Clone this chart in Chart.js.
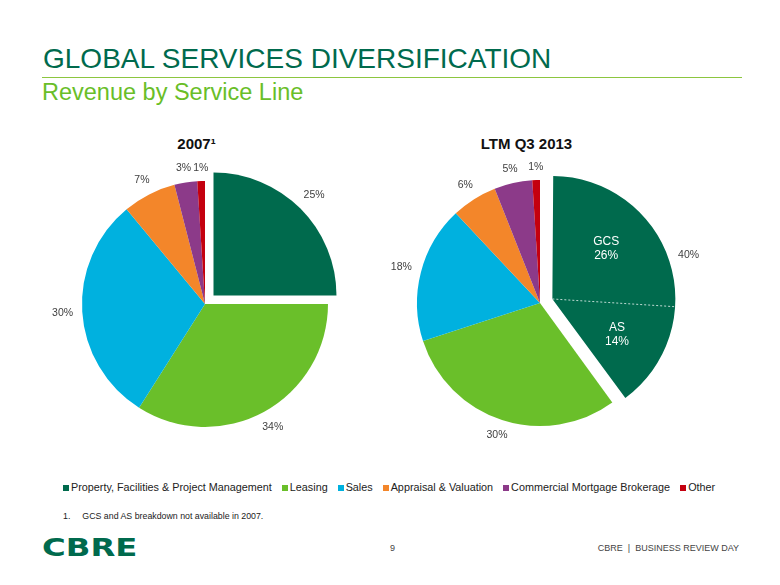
<!DOCTYPE html>
<html>
<head>
<meta charset="utf-8">
<script src="https://cdn.jsdelivr.net/npm/chart.js@4/dist/chart.umd.min.js"></script>
<style>
  body { margin: 0; background: #fff; }
  #page { position: relative; width: 780px; height: 585px; overflow: hidden; font-family: "Liberation Sans", Arial, sans-serif; }
  .abs { position: absolute; white-space: nowrap; }
  #title { left: 43px; top: 45px; font-size: 28px; line-height: 28px; color: #006a4d; }
  #rule { left: 42px; top: 77px; width: 700px; height: 1px; background: #8cc63f; }
  #subtitle { left: 42px; top: 80.5px; font-size: 23.5px; line-height: 23.5px; color: #69be28; }
  .pieTitle { width: 200px; text-align: center; font-weight: bold; font-size: 15px; line-height: 15px; color: #111; top: 136px; }
  canvas { position: absolute; }
  #legend { left: 63px; top: 482px; display: flex; font-size: 10.8px; line-height: 11px; color: #222; }
  #legend .item { display: flex; align-items: center; margin-right: 10px; }
  #legend .box { width: 6px; height: 6px; margin-right: 2px; }
  #note { left: 63px; top: 512px; font-size: 8.8px; line-height: 8.8px; color: #222; }
  #logo { left: 42px; top: 536px; font-family: "DejaVu Sans", sans-serif; font-weight: bold; font-size: 24.7px; line-height: 24.7px; color: #006a4d; transform: scaleX(1.31); transform-origin: left center; }
  #pageNo { left: 390px; top: 544px; font-size: 9px; line-height: 9px; color: #444; }
  #footer { right: 41px; top: 544px; font-size: 9px; line-height: 9px; color: #444; }
</style>
</head>
<body>
<div id="page">
  <div id="title" class="abs">GLOBAL SERVICES DIVERSIFICATION</div>
  <div id="rule" class="abs"></div>
  <div id="subtitle" class="abs">Revenue by Service Line</div>
  <div class="abs pieTitle" style="left:96.5px">2007¹</div>
  <div class="abs pieTitle" style="left:426.5px">LTM Q3 2013</div>
  <canvas id="pie2007" width="330" height="330" style="left:40px; top:139px"></canvas>
  <canvas id="pie2013" width="340" height="320" style="left:370px; top:143px"></canvas>
  <div id="legend" class="abs"></div>
  <div id="note" class="abs">1.<span style="display:inline-block; width:12px"></span>GCS and AS breakdown not available in 2007.</div>
  <div id="logo" class="abs">CBRE</div>
  <div id="pageNo" class="abs">9</div>
  <div id="footer" class="abs">CBRE&nbsp;&nbsp;|&nbsp;&nbsp;BUSINESS REVIEW DAY</div>
</div>
<script>
// revenue share by service line, in percent
const categories = ['Property, Facilities & Project Management', 'Leasing', 'Sales',
  'Appraisal & Valuation', 'Commercial Mortgage Brokerage', 'Other'];
const share2007 = [25, 34, 30, 7, 3, 1];
const shareLtm2013 = [40, 30, 18, 6, 5, 1];
// breakdown of the first slice in LTM Q3 2013
const splitLabels = ['GCS', 'AS'];
const splitValues = [26, 14];

const sliceColors = ['#006a4d', '#6abf2a', '#00b1df', '#f3862a', '#8c3a89', '#c4000f'];
const OFFSET_DIV = 4; // arc element moves a slice by offset / 4

// legend
const legend = document.getElementById('legend');
categories.forEach((name, i) => {
  const item = document.createElement('div');
  item.className = 'item';
  item.innerHTML = '<span class="box" style="background:' + sliceColors[i] + '"></span><span>' + name.replace('&', '&amp;') + '</span>';
  legend.appendChild(item);
});

function arcShift(arc) {
  const mid = (arc.startAngle + arc.endAngle) / 2;
  const t = (arc.options.offset || 0) / OFFSET_DIV;
  return { dx: Math.cos(mid) * t, dy: Math.sin(mid) * t, t, mid };
}

// exploded arcs get drawn with a larger radius; keep them the same size as the rest
const keepRadius = {
  id: 'keepRadius',
  beforeDatasetsDraw(chart) {
    chart.getDatasetMeta(0).data.forEach(arc => {
      if (arc.$baseR === undefined) arc.$baseR = arc.outerRadius;
      const t = (arc.options.offset || 0) / OFFSET_DIV;
      const fix = 1 - Math.sin(Math.min(Math.PI, arc.circumference || 0));
      arc.outerRadius = arc.$baseR - t * fix;
    });
  }
};

const pieLabels = {
  id: 'pieLabels',
  afterDatasetsDraw(chart) {
    const ctx = chart.ctx;
    const meta = chart.getDatasetMeta(0);
    const values = chart.data.datasets[0].data;
    ctx.save();
    ctx.font = '10.5px "Liberation Sans", Arial, sans-serif';
    ctx.fillStyle = '#404040';
    ctx.textAlign = 'center';
    ctx.textBaseline = 'middle';
    meta.data.forEach((arc, i) => {
      const s = arcShift(arc);
      const text = values[i] + '%';
      const w = ctx.measureText(text).width;
      const ext = Math.abs(Math.cos(s.mid)) * w / 2 + Math.abs(Math.sin(s.mid)) * 4;
      const r = arc.$baseR + s.t + 9 + ext;
      ctx.fillText(text, arc.x + Math.cos(s.mid) * r, arc.y + Math.sin(s.mid) * r);
    });
    ctx.restore();
  }
};

const splitPlugin = {
  id: 'splitPlugin',
  afterDatasetsDraw(chart) {
    const ctx = chart.ctx;
    const arc = chart.getDatasetMeta(0).data[0];
    const s = arcShift(arc);
    const R = arc.$baseR;
    const cx = arc.x + s.dx, cy = arc.y + s.dy;
    const total = splitValues.reduce((a, b) => a + b, 0);
    const span = arc.endAngle - arc.startAngle;
    const cut = arc.startAngle + span * splitValues[0] / total;
    ctx.save();
    ctx.strokeStyle = 'rgba(255,255,255,0.75)';
    ctx.lineWidth = 1;
    ctx.setLineDash([2, 2]);
    ctx.beginPath();
    ctx.moveTo(cx, cy);
    ctx.lineTo(cx + Math.cos(cut) * R, cy + Math.sin(cut) * R);
    ctx.stroke();
    ctx.setLineDash([]);
    ctx.fillStyle = '#ffffff';
    ctx.font = '12px "Liberation Sans", Arial, sans-serif';
    ctx.textAlign = 'center';
    ctx.textBaseline = 'middle';
    const bounds = [arc.startAngle, cut, arc.endAngle];
    splitLabels.forEach((lab, i) => {
      const a = (bounds[i] + bounds[i + 1]) / 2;
      const r = R * 0.6;
      const x = cx + Math.cos(a) * r, y = cy + Math.sin(a) * r;
      ctx.fillText(lab, x, y - 7);
      ctx.fillText(splitValues[i] + '%', x, y + 7);
    });
    ctx.restore();
  }
};

function makePie(id, values, explode, extraPlugins) {
  return new Chart(document.getElementById(id), {
    type: 'pie',
    data: {
      labels: categories,
      datasets: [{
        data: values,
        backgroundColor: sliceColors,
        borderWidth: 0,
        offset: values.map((v, i) => i === 0 ? explode * OFFSET_DIV : 0)
      }]
    },
    options: {
      responsive: false,
      animation: false,
      events: [],
      radius: 123,
      layout: { padding: 0 },
      plugins: { legend: { display: false }, tooltip: { enabled: false } }
    },
    plugins: [keepRadius, pieLabels].concat(extraPlugins)
  });
}

makePie('pie2007', share2007, 12, []);
makePie('pie2013', shareLtm2013, 13, [splitPlugin]);
</script>
</body>
</html>
